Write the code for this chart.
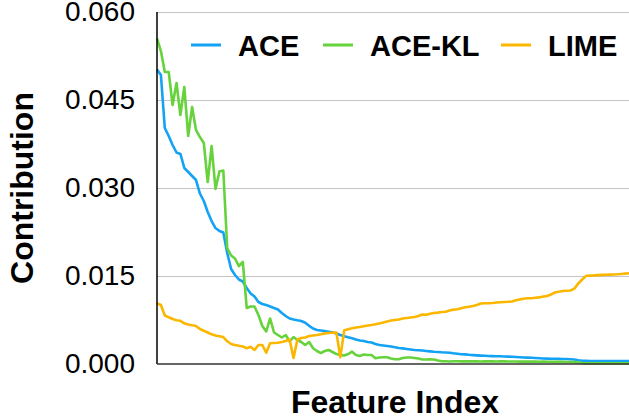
<!DOCTYPE html>
<html>
<head>
<meta charset="utf-8">
<script src="https://cdn.jsdelivr.net/npm/d3@7"></script>
<style>
  body { margin: 0; background: #fff; }
  svg { display: block; font-family: Helvetica, "Liberation Sans", Arial, sans-serif; }
</style>
</head>
<body>
<div id="chart"></div>
<script>
// values, one per feature index
const ace = [
  0.05020, 0.04926, 0.04023, 0.03886, 0.03733, 0.03605, 0.03580, 0.03341, 0.03273, 0.03205,
  0.03136, 0.02906, 0.02778, 0.02591, 0.02437, 0.02318, 0.02267, 0.02241, 0.01892, 0.01619,
  0.01517, 0.01440, 0.01406, 0.01295, 0.01202, 0.01151, 0.01057, 0.01023, 0.01006, 0.00980,
  0.00955, 0.00929, 0.00869, 0.00818, 0.00776, 0.00759, 0.00745, 0.00733, 0.00704, 0.00651,
  0.00605, 0.00580, 0.00571, 0.00562, 0.00549, 0.00537, 0.00520, 0.00494, 0.00472, 0.00455,
  0.00440, 0.00418, 0.00401, 0.00392, 0.00375, 0.00366, 0.00341, 0.00324, 0.00315, 0.00307,
  0.00298, 0.00285, 0.00273, 0.00266, 0.00256, 0.00247, 0.00239, 0.00235, 0.00230, 0.00222,
  0.00215, 0.00208, 0.00205, 0.00199, 0.00196, 0.00193, 0.00182, 0.00174, 0.00167, 0.00164,
  0.00157, 0.00152, 0.00147, 0.00143, 0.00140, 0.00136, 0.00135, 0.00133, 0.00131, 0.00128,
  0.00126, 0.00123, 0.00119, 0.00116, 0.00112, 0.00109, 0.00106, 0.00102, 0.00099, 0.00095,
  0.00092, 0.00090, 0.00089, 0.00087, 0.00085, 0.00084, 0.00082, 0.00078, 0.00063, 0.00055,
  0.00053, 0.00051, 0.00051, 0.00051, 0.00051, 0.00051, 0.00051, 0.00051, 0.00051, 0.00051,
  0.00051, 0.00051
];

const aceKL = [
  0.05552, 0.05335, 0.04977, 0.04977, 0.04415, 0.04790, 0.04244, 0.04722, 0.03886, 0.04381,
  0.03989, 0.03869, 0.03767, 0.03102, 0.03716, 0.02983, 0.03281, 0.03298, 0.01977, 0.01849,
  0.01798, 0.01670, 0.01739, 0.00955, 0.00980, 0.00980, 0.00835, 0.00648, 0.00554, 0.00776,
  0.00537, 0.00494, 0.00452, 0.00494, 0.00384, 0.00460, 0.00409, 0.00375, 0.00324, 0.00375,
  0.00268, 0.00222, 0.00187, 0.00222, 0.00239, 0.00205, 0.00170, 0.00153, 0.00145, 0.00170,
  0.00210, 0.00153, 0.00136, 0.00162, 0.00153, 0.00153, 0.00097, 0.00111, 0.00114, 0.00114,
  0.00094, 0.00080, 0.00080, 0.00102, 0.00111, 0.00111, 0.00102, 0.00094, 0.00077, 0.00077,
  0.00080, 0.00077, 0.00060, 0.00046, 0.00048, 0.00043, 0.00046, 0.00048, 0.00044, 0.00045,
  0.00046, 0.00044, 0.00045, 0.00043, 0.00044, 0.00046, 0.00044, 0.00043, 0.00045, 0.00044,
  0.00042, 0.00043, 0.00042, 0.00041, 0.00042, 0.00040, 0.00041, 0.00040, 0.00039, 0.00040,
  0.00038, 0.00038, 0.00037, 0.00037, 0.00036, 0.00035, 0.00034, 0.00032, 0.00025, 0.00016,
  0.00010, 0.00010, 0.00010, 0.00010, 0.00010, 0.00010, 0.00010, 0.00010, 0.00010, 0.00010,
  0.00010, 0.00010
];

const lime = [
  0.01035, 0.01006, 0.00827, 0.00796, 0.00767, 0.00747, 0.00736, 0.00694, 0.00673, 0.00660,
  0.00648, 0.00597, 0.00566, 0.00537, 0.00506, 0.00486, 0.00474, 0.00460, 0.00387, 0.00341,
  0.00324, 0.00310, 0.00298, 0.00268, 0.00293, 0.00239, 0.00324, 0.00324, 0.00193, 0.00353,
  0.00358, 0.00363, 0.00375, 0.00392, 0.00418, 0.00102, 0.00418, 0.00443, 0.00452, 0.00477,
  0.00486, 0.00494, 0.00506, 0.00522, 0.00528, 0.00534, 0.00534, 0.00114, 0.00574, 0.00591,
  0.00609, 0.00622, 0.00631, 0.00644, 0.00655, 0.00665, 0.00677, 0.00692, 0.00707, 0.00724,
  0.00741, 0.00750, 0.00759, 0.00776, 0.00784, 0.00793, 0.00801, 0.00818, 0.00844, 0.00839,
  0.00856, 0.00869, 0.00876, 0.00886, 0.00891, 0.00912, 0.00927, 0.00934, 0.00951, 0.00966,
  0.00975, 0.00989, 0.01006, 0.01031, 0.01035, 0.01035, 0.01040, 0.01047, 0.01052, 0.01057,
  0.01060, 0.01065, 0.01086, 0.01101, 0.01111, 0.01120, 0.01122, 0.01128, 0.01135, 0.01149,
  0.01159, 0.01183, 0.01220, 0.01232, 0.01243, 0.01248, 0.01253, 0.01285, 0.01372, 0.01440,
  0.01503, 0.01507, 0.01510, 0.01515, 0.01519, 0.01520, 0.01524, 0.01526, 0.01529, 0.01534,
  0.01541, 0.01546
];

const seriesNames = ["ACE", "ACE-KL", "LIME"];
const seriesColors = ["#14a2f4", "#66d23c", "#fbb700"];
const yTicks = [0, 0.015, 0.03, 0.045, 0.06];

const width = 629;
const height = 418;
const margin = { top: 12, right: 0, bottom: 54, left: 157 };

const svg = d3
  .select("#chart")
  .append("svg")
  .attr("width", width)
  .attr("height", height);

const xScale = d3
  .scaleLinear()
  .domain([0, ace.length - 1])
  .range([margin.left, width - margin.right]);

const yScale = d3
  .scaleLinear()
  .domain([0, 0.06])
  .range([height - margin.bottom, margin.top]);

// gridlines
svg
  .append("g")
  .attr("class", "gridlines")
  .attr("transform", `translate(${margin.left},0)`)
  .call(
    d3
      .axisLeft(yScale)
      .tickValues(yTicks.slice(1))
      .tickFormat("")
      .tickSize(-(width - margin.left - margin.right))
  )
  .call((g) => g.select(".domain").remove())
  .call((g) => g.selectAll("line").attr("stroke", "#c4c4c4").attr("stroke-width", 1.2));

// y tick labels
const yAxis = d3
  .axisLeft(yScale)
  .tickValues(yTicks)
  .tickFormat(d3.format(".3f"))
  .tickSize(0)
  .tickPadding(22);
svg
  .append("g")
  .attr("transform", `translate(${margin.left},0)`)
  .call(yAxis)
  .call((g) => g.select(".domain").remove())
  .call((g) =>
    g.selectAll("text").attr("font-size", 28).attr("fill", "#000").attr("font-family", "Helvetica, 'Liberation Sans', Arial, sans-serif")
  );

// lines
const line = d3
  .line()
  .x((d, i) => xScale(i))
  .y((d) => yScale(d));

[ace, aceKL, lime].forEach((vals, i) => {
  svg
    .append("path")
    .datum(vals)
    .attr("fill", "none")
    .attr("stroke", seriesColors[i])
    .attr("stroke-width", 2.6)
    .attr("stroke-linejoin", "round")
    .attr("d", line);
});

// axis lines
svg
  .append("line")
  .attr("x1", margin.left)
  .attr("x2", margin.left)
  .attr("y1", margin.top)
  .attr("y2", yScale(0))
  .attr("stroke", "#000")
  .attr("stroke-width", 1.5);
svg
  .append("line")
  .attr("x1", margin.left)
  .attr("x2", width)
  .attr("y1", yScale(0))
  .attr("y2", yScale(0))
  .attr("stroke", "#333")
  .attr("stroke-width", 1.5);

// axis titles
svg
  .append("text")
  .attr("transform", `translate(33, ${(margin.top + yScale(0)) / 2}) rotate(-90)`)
  .attr("text-anchor", "middle")
  .attr("font-size", 32)
  .attr("font-weight", "bold")
  .text("Contribution");

svg
  .append("text")
  .attr("x", 395)
  .attr("y", 413)
  .attr("text-anchor", "middle")
  .attr("font-size", 32)
  .attr("font-weight", "bold")
  .text("Feature Index");

// legend
const legendX = [191, 323, 501];
const legend = svg.append("g").attr("class", "legend");
seriesNames.forEach((name, i) => {
  const g = legend.append("g").attr("transform", `translate(${legendX[i]},45)`);
  g.append("line")
    .attr("x1", 0)
    .attr("x2", 30)
    .attr("stroke", seriesColors[i])
    .attr("stroke-width", 3);
  g.append("text")
    .attr("x", 47)
    .attr("y", 11)
    .attr("font-size", 29)
    .attr("font-weight", "bold")
    .text(name);
});
</script>
</body>
</html>
